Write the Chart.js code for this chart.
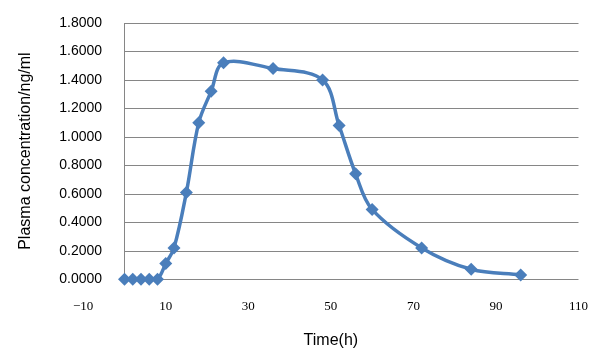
<!DOCTYPE html>
<html>
<head>
<meta charset="utf-8">
<script src="https://cdn.jsdelivr.net/npm/chart.js@4/dist/chart.umd.min.js"></script>
<style>
  html, body { margin: 0; padding: 0; background: #fff; }
  #wrap { width: 600px; height: 360px; }
</style>
</head>
<body>
<div id="wrap"><canvas id="chart" width="600" height="360"></canvas></div>
<script>
const times = [0, 2, 4, 6, 8, 10, 12, 15, 18, 21, 24, 36, 48, 52, 56, 60, 72, 84, 96];
const conc = [0, 0, 0, 0, 0, 0.11, 0.22, 0.61, 1.10, 1.32, 1.52, 1.48, 1.40, 1.08, 0.74, 0.49, 0.22, 0.07, 0.03];
const xTicks = [-10, 10, 30, 50, 70, 90, 110];
const yTicks = [0, 0.2, 0.4, 0.6, 0.8, 1.0, 1.2, 1.4, 1.6, 1.8];

const gridColor = "#868686";
const lineColor = "#4a7ebb";

// value axis crosses at x = 0, so its line and the gridlines start there
const crossAxis = {
  id: "crossAxis",
  beforeDatasetsDraw(chart) {
    const { ctx, chartArea } = chart;
    const x = chart.scales.x, y = chart.scales.y;
    const x0 = Math.round(x.getPixelForValue(0)) + 0.5;
    ctx.save();
    ctx.strokeStyle = gridColor;
    ctx.lineWidth = 1;
    yTicks.forEach(v => {
      const py = Math.round(y.getPixelForValue(v)) + 0.5;
      ctx.beginPath();
      ctx.moveTo(x0, py);
      ctx.lineTo(chartArea.right, py);
      ctx.stroke();
    });
    ctx.beginPath();
    ctx.moveTo(x0, chartArea.top);
    ctx.lineTo(x0, chartArea.bottom);
    ctx.stroke();
    ctx.restore();
  }
};

const chartCtx = document.getElementById("chart").getContext("2d");

new Chart(chartCtx, {
  type: "line",
  data: {
    datasets: [{
      data: times.map((t, i) => ({ x: t, y: conc[i] })),
      borderColor: lineColor,
      backgroundColor: lineColor,
      borderWidth: 3.5,
      tension: 0.35,
      pointStyle: "rectRot",
      pointRadius: 6.5,
      pointBorderWidth: 0,
      pointBackgroundColor: lineColor,
      clip: false
    }]
  },
  options: {
    responsive: false,
    animation: false,
    devicePixelRatio: 1,
    layout: { padding: { top: 23, right: 15, left: 8, bottom: 10 } },
    plugins: { legend: { display: false }, tooltip: { enabled: false } },
    scales: {
      x: {
        type: "linear",
        min: -10,
        max: 110,
        afterBuildTicks: s => { s.ticks = xTicks.map(v => ({ value: v })); },
        ticks: {
          padding: 12,
          color: "#000",
          font: { family: "'Liberation Serif', serif", size: 13 },
          callback: v => v < 0 ? "\u2212" + Math.abs(v) : String(v)
        },
        grid: { display: false },
        border: { display: false },
        title: {
          display: true,
          text: "Time(h)",
          color: "#000",
          font: { family: "'Liberation Sans', sans-serif", size: 16 },
          padding: { top: 4, bottom: 0 }
        }
      },
      y: {
        position: "left",
        min: 0,
        max: 1.8,
        afterBuildTicks: s => { s.ticks = yTicks.map(v => ({ value: v })); },
        ticks: {
          mirror: true,
          padding: -24,
          color: "#000",
          font: { family: "'Liberation Sans', sans-serif", size: 14 },
          callback: v => Number(v).toFixed(4)
        },
        grid: { display: false },
        border: { display: false },
        title: {
          display: true,
          text: "Plasma concentration/ng/ml",
          color: "#000",
          font: { family: "'Liberation Sans', sans-serif", size: 16 },
          padding: { top: 8, bottom: 88 }
        }
      }
    }
  },
  plugins: [crossAxis]
});
</script>
</body>
</html>
